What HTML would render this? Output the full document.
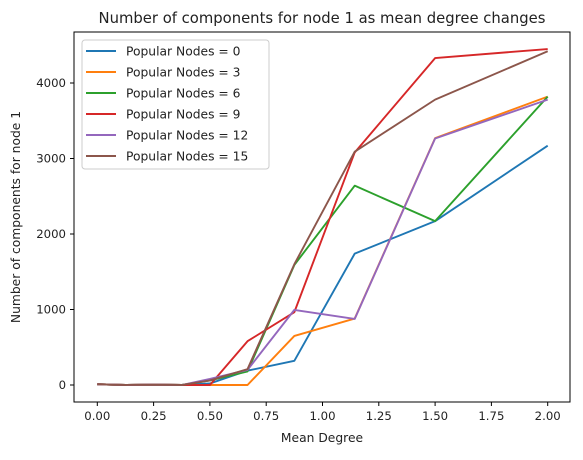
<!DOCTYPE html>
<html><head><meta charset="utf-8"><style>
body{margin:0;background:#fff}
svg text{font-family:"DejaVu Sans","Liberation Sans",sans-serif;fill:#222}
</style></head><body>
<svg id="chart" width="583" height="455" xmlns="http://www.w3.org/2000/svg">
<rect width="583" height="455" fill="#fff"/>
<text x="322" y="23" text-anchor="middle" font-size="14.8">Number of components for node 1 as mean degree changes</text>
<g id="grid"></g>
<g id="series"></g>
<rect x="74" y="32" width="496" height="370" fill="none" stroke="#000" stroke-width="1"/>
<text x="322" y="442" text-anchor="middle" font-size="12.3">Mean Degree</text>
<text transform="translate(20,217) rotate(-90)" text-anchor="middle" font-size="12.3">Number of components for node 1</text>
<g id="legend"></g>
</svg>
<script>
const xValues=[0,0.125,0.25,0.375,0.5,0.667,0.875,1.143,1.5,2.0];
const seriesNames=["Popular Nodes = 0","Popular Nodes = 3","Popular Nodes = 6","Popular Nodes = 9","Popular Nodes = 12","Popular Nodes = 15"];
const s0=[10,0,5,0,20,190,320,1740,2170,3170];
const s3=[10,0,5,0,0,0,650,880,3270,3820];
const s6=[10,0,5,0,60,180,1590,2640,2170,3820];
const s9=[10,0,5,0,0,580,965,3080,4330,4450];
const s12=[10,0,5,0,80,200,995,875,3265,3780];
const s15=[10,0,5,0,60,210,1600,3090,3780,4420];
const xTicks=[0,0.25,0.5,0.75,1.0,1.25,1.5,1.75,2.0];
const xTickLabels=["0.00","0.25","0.50","0.75","1.00","1.25","1.50","1.75","2.00"];
const yTicks=[0,1000,2000,3000,4000];
const colors=["#1f77b4","#ff7f0e","#2ca02c","#d62728","#9467bd","#8c564b"];
const allSeries=[s0,s3,s6,s9,s12,s15];
const NS="http://www.w3.org/2000/svg";
function X(v){return 97.3+v*225.2;}
function Y(v){return 385-v*0.0755;}
function mk(tag,attrs,parent){const e=document.createElementNS(NS,tag);for(const k in attrs)e.setAttribute(k,attrs[k]);parent.appendChild(e);return e;}
const grid=document.getElementById('grid');
xTicks.forEach((t,i)=>{
 const l=mk('line',{x1:X(t),x2:X(t),y1:402,y2:406,stroke:'#000'},grid);
 
 
 const tx=mk('text',{x:X(t),y:420,'text-anchor':'middle','font-size':'11.7'},grid);
 tx.textContent=xTickLabels[i];
 
 
});
yTicks.forEach(t=>{
 const l=mk('line',{x1:70,x2:74,y1:Y(t),y2:Y(t),stroke:'#000'},grid);
 
 
 const tx=mk('text',{x:66,y:Y(t)+4,'text-anchor':'end','font-size':'11.7'},grid);
 tx.textContent=String(t);
 
 
});
const sg=document.getElementById('series');
allSeries.forEach((s,i)=>{
 const p=mk('polyline',{points:s.map((v,j)=>X(xValues[j])+','+Y(v)).join(' '),fill:'none',stroke:colors[i],'stroke-width':'1.9','stroke-linejoin':'round'},sg);
 
 
});
const lg=document.getElementById('legend');
const box=mk('rect',{x:82,y:40,width:187,height:129,rx:3,fill:'#fff','fill-opacity':'0.8',stroke:'#ccc'},lg);


seriesNames.forEach((n,i)=>{
 const y=51+i*21;
 const l=mk('line',{x1:86,x2:116,y1:y,y2:y,stroke:colors[i],'stroke-width':'1.9'},lg);
 
 
 const t=mk('text',{x:126,y:y+4.5,'font-size':'12.3'},lg);
 t.textContent=n;
 
 
});
</script>
</body></html>
